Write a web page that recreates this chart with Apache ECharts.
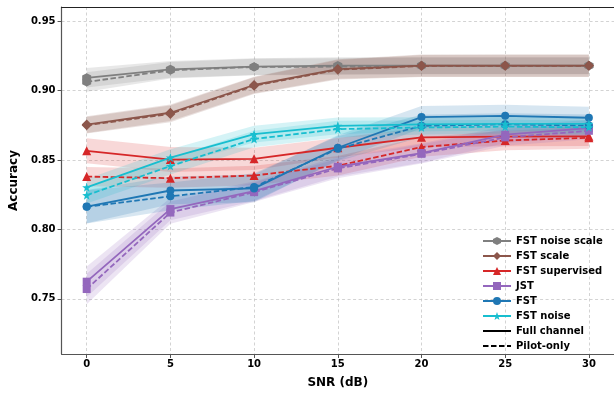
<!DOCTYPE html>
<html><head><meta charset="utf-8">
<script src="https://cdn.jsdelivr.net/npm/echarts@6/dist/echarts.min.js"></script>
<style>html,body{margin:0;padding:0;background:#fff}#c{width:614px;height:394px}</style>
</head><body><div id="c"></div>
<script>
const snr = [0, 5, 10, 15, 20, 25, 30];
const xTicks = [0, 5, 10, 15, 20, 25, 30];
const yTicks = [0.75, 0.80, 0.85, 0.90, 0.95];

const fstNoiseScaleFull  = [0.9092, 0.9153, 0.9172, 0.9180, 0.9180, 0.9180, 0.9180];
const fstNoiseScalePilot = [0.9062, 0.9146, 0.9170, 0.9172, 0.9178, 0.9178, 0.9178];
const fstScaleFull       = [0.8755, 0.8840, 0.9040, 0.9155, 0.9180, 0.9180, 0.9180];
const fstScalePilot      = [0.8750, 0.8832, 0.9035, 0.9150, 0.9177, 0.9178, 0.9178];
const fstSupFull         = [0.8566, 0.8503, 0.8508, 0.8588, 0.8663, 0.8668, 0.8670];
const fstSupPilot        = [0.8380, 0.8369, 0.8388, 0.8458, 0.8593, 0.8640, 0.8660];
const jstFull            = [0.7623, 0.8146, 0.8275, 0.8451, 0.8550, 0.8682, 0.8729];
const jstPilot           = [0.7570, 0.8121, 0.8268, 0.8439, 0.8544, 0.8663, 0.8710];
const fstFull            = [0.8164, 0.8280, 0.8295, 0.8588, 0.8809, 0.8818, 0.8804];
const fstPilot           = [0.8162, 0.8238, 0.8305, 0.8580, 0.8746, 0.8757, 0.8748];
const fstNoiseFull       = [0.8303, 0.8517, 0.8686, 0.8746, 0.8757, 0.8760, 0.8760];
const fstNoisePilot      = [0.8246, 0.8456, 0.8651, 0.8722, 0.8734, 0.8740, 0.8735];

const stdNoiseScale = [0.007, 0.006, 0.006, 0.006, 0.006, 0.006, 0.006];
const stdScale      = [0.006, 0.006, 0.006, 0.007, 0.008, 0.008, 0.008];
const stdSupFull    = [0.009, 0.009, 0.008, 0.007, 0.007, 0.007, 0.007];
const stdSupPilot   = [0.007, 0.007, 0.007, 0.007, 0.007, 0.007, 0.008];
const stdJst        = [0.011, 0.008, 0.007, 0.007, 0.007, 0.006, 0.006];
const stdFst        = [0.012, 0.010, 0.010, 0.009, 0.008, 0.008, 0.008];
const stdNoise      = [0.006, 0.006, 0.006, 0.006, 0.005, 0.005, 0.005];

const hexPath = 'path://M0,-10L8.66,-5L8.66,5L0,10L-8.66,5L-8.66,-5Z';
const starPath = 'path://M0,-10L2.35,-3.24L9.51,-3.09L3.8,1.24L5.88,8.09L0,4L-5.88,8.09L-3.8,1.24L-9.51,-3.09L-2.35,-3.24Z';

const methods = [
  {name: 'FST noise scale', color: '#7f7f7f', symbol: hexPath, size: 9, full: fstNoiseScaleFull, pilot: fstNoiseScalePilot, sf: stdNoiseScale, sp: stdNoiseScale},
  {name: 'FST scale', color: '#8c564b', symbol: 'diamond', size: 10, full: fstScaleFull, pilot: fstScalePilot, sf: stdScale, sp: stdScale},
  {name: 'FST supervised', color: '#d62728', symbol: 'triangle', size: 9, full: fstSupFull, pilot: fstSupPilot, sf: stdSupFull, sp: stdSupPilot},
  {name: 'JST', color: '#9467bd', symbol: 'rect', size: 8, full: jstFull, pilot: jstPilot, sf: stdJst, sp: stdJst},
  {name: 'FST', color: '#1f77b4', symbol: 'circle', size: 8, full: fstFull, pilot: fstPilot, sf: stdFst, sp: stdFst},
  {name: 'FST noise', color: '#17becf', symbol: starPath, size: 9, full: fstNoiseFull, pilot: fstNoisePilot, sf: stdNoise, sp: stdNoise}
];

const series = [];
function band(vals, std, color) {
  const data = snr.map((x, i) => [x, vals[i] - std[i], vals[i] + std[i]]);
  const fill = echarts.color.modifyAlpha(color, 0.18);
  series.push({
    type: 'custom', silent: true, z: 1, clip: true,
    encode: {x: 0, y: [1, 2]},
    data: data,
    renderItem: function (params, api) {
      if (params.dataIndex !== 0) return null;
      const upper = data.map(d => api.coord([d[0], d[2]]));
      const lower = data.map(d => api.coord([d[0], d[1]])).reverse();
      return {type: 'polygon', shape: {points: upper.concat(lower)}, style: {fill: fill, stroke: null}};
    }
  });
}
methods.forEach(m => {
  band(m.full, m.sf, m.color);
  band(m.pilot, m.sp, m.color);
});
methods.forEach(m => {
  series.push({
    name: m.name, type: 'line', z: 3, symbol: m.symbol, symbolSize: m.size,
    color: m.color, itemStyle: {color: m.color},
    lineStyle: {width: 1.8, color: m.color},
    data: snr.map((x, i) => [x, m.full[i]])
  });
  series.push({
    name: m.name, type: 'line', z: 3, symbol: m.symbol, symbolSize: m.size,
    color: m.color, itemStyle: {color: m.color},
    lineStyle: {width: 1.8, color: m.color, type: [5.5, 2.5]},
    data: snr.map((x, i) => [x, m.pilot[i]])
  });
});
series.push({name: 'Full channel', type: 'line', symbol: 'none', color: '#000', lineStyle: {width: 1.8, color: '#000'}, data: []});
series.push({name: 'Pilot-only', type: 'line', symbol: 'none', color: '#000', lineStyle: {width: 1.8, color: '#000', type: [5.5, 2.5]}, data: []});

const font = 'DejaVu Sans';
const chart = echarts.init(document.getElementById('c'), null, {renderer: 'canvas'});
chart.setOption({
  animation: false,
  backgroundColor: '#fff',
  grid: {left: 59.5, top: 7, width: 556, height: 354, containLabel: false},
  legend: {
    orient: 'vertical', left: 477, top: 231, itemGap: 5, itemWidth: 28, itemHeight: 10,
    textStyle: {fontFamily: font, fontWeight: 'bold', fontSize: 10, color: '#000'},
    data: methods.map(m => m.name).concat([
      {name: 'Full channel', itemStyle: {opacity: 0}},
      {name: 'Pilot-only', itemStyle: {opacity: 0}}
    ])
  },
  xAxis: [{
    type: 'value', min: -1.5, max: 31.5,
    name: 'SNR (dB)', nameLocation: 'middle', nameGap: 23,
    nameTextStyle: {fontFamily: font, fontWeight: 'bold', fontSize: 12, color: '#000'},
    axisLine: {show: true, onZero: false, lineStyle: {color: '#555', width: 1.2}},
    axisTick: {show: true, length: 4, lineStyle: {color: '#555'}, customValues: xTicks},
    axisLabel: {customValues: xTicks, margin: 5, fontFamily: font, fontWeight: 'bold', fontSize: 10, color: '#000'},
    splitLine: {show: true, lineStyle: {color: '#c8c8c8', type: [3, 2.5], width: 0.8}}
  }, {
    type: 'value', position: 'top', min: -1.5, max: 31.5,
    axisLine: {show: true, onZero: false, lineStyle: {color: '#222', width: 1.2}},
    axisTick: {show: false}, axisLabel: {show: false}, splitLine: {show: false}
  }],
  yAxis: {
    type: 'value', min: 0.7102, max: 0.9602,
    name: 'Accuracy', nameLocation: 'middle', nameGap: 41,
    nameTextStyle: {fontFamily: font, fontWeight: 'bold', fontSize: 12, color: '#000'},
    axisLine: {show: true, onZero: false, lineStyle: {color: '#555', width: 1.2}},
    axisTick: {show: true, length: 4, lineStyle: {color: '#555'}, customValues: yTicks},
    axisLabel: {customValues: yTicks, margin: 6, fontFamily: font, fontWeight: 'bold', fontSize: 10, color: '#000',
      formatter: v => v.toFixed(2)},
    splitLine: {show: true, lineStyle: {color: '#c8c8c8', type: [3, 2.5], width: 0.8}}
  },
  series: series
});
</script></body></html>
